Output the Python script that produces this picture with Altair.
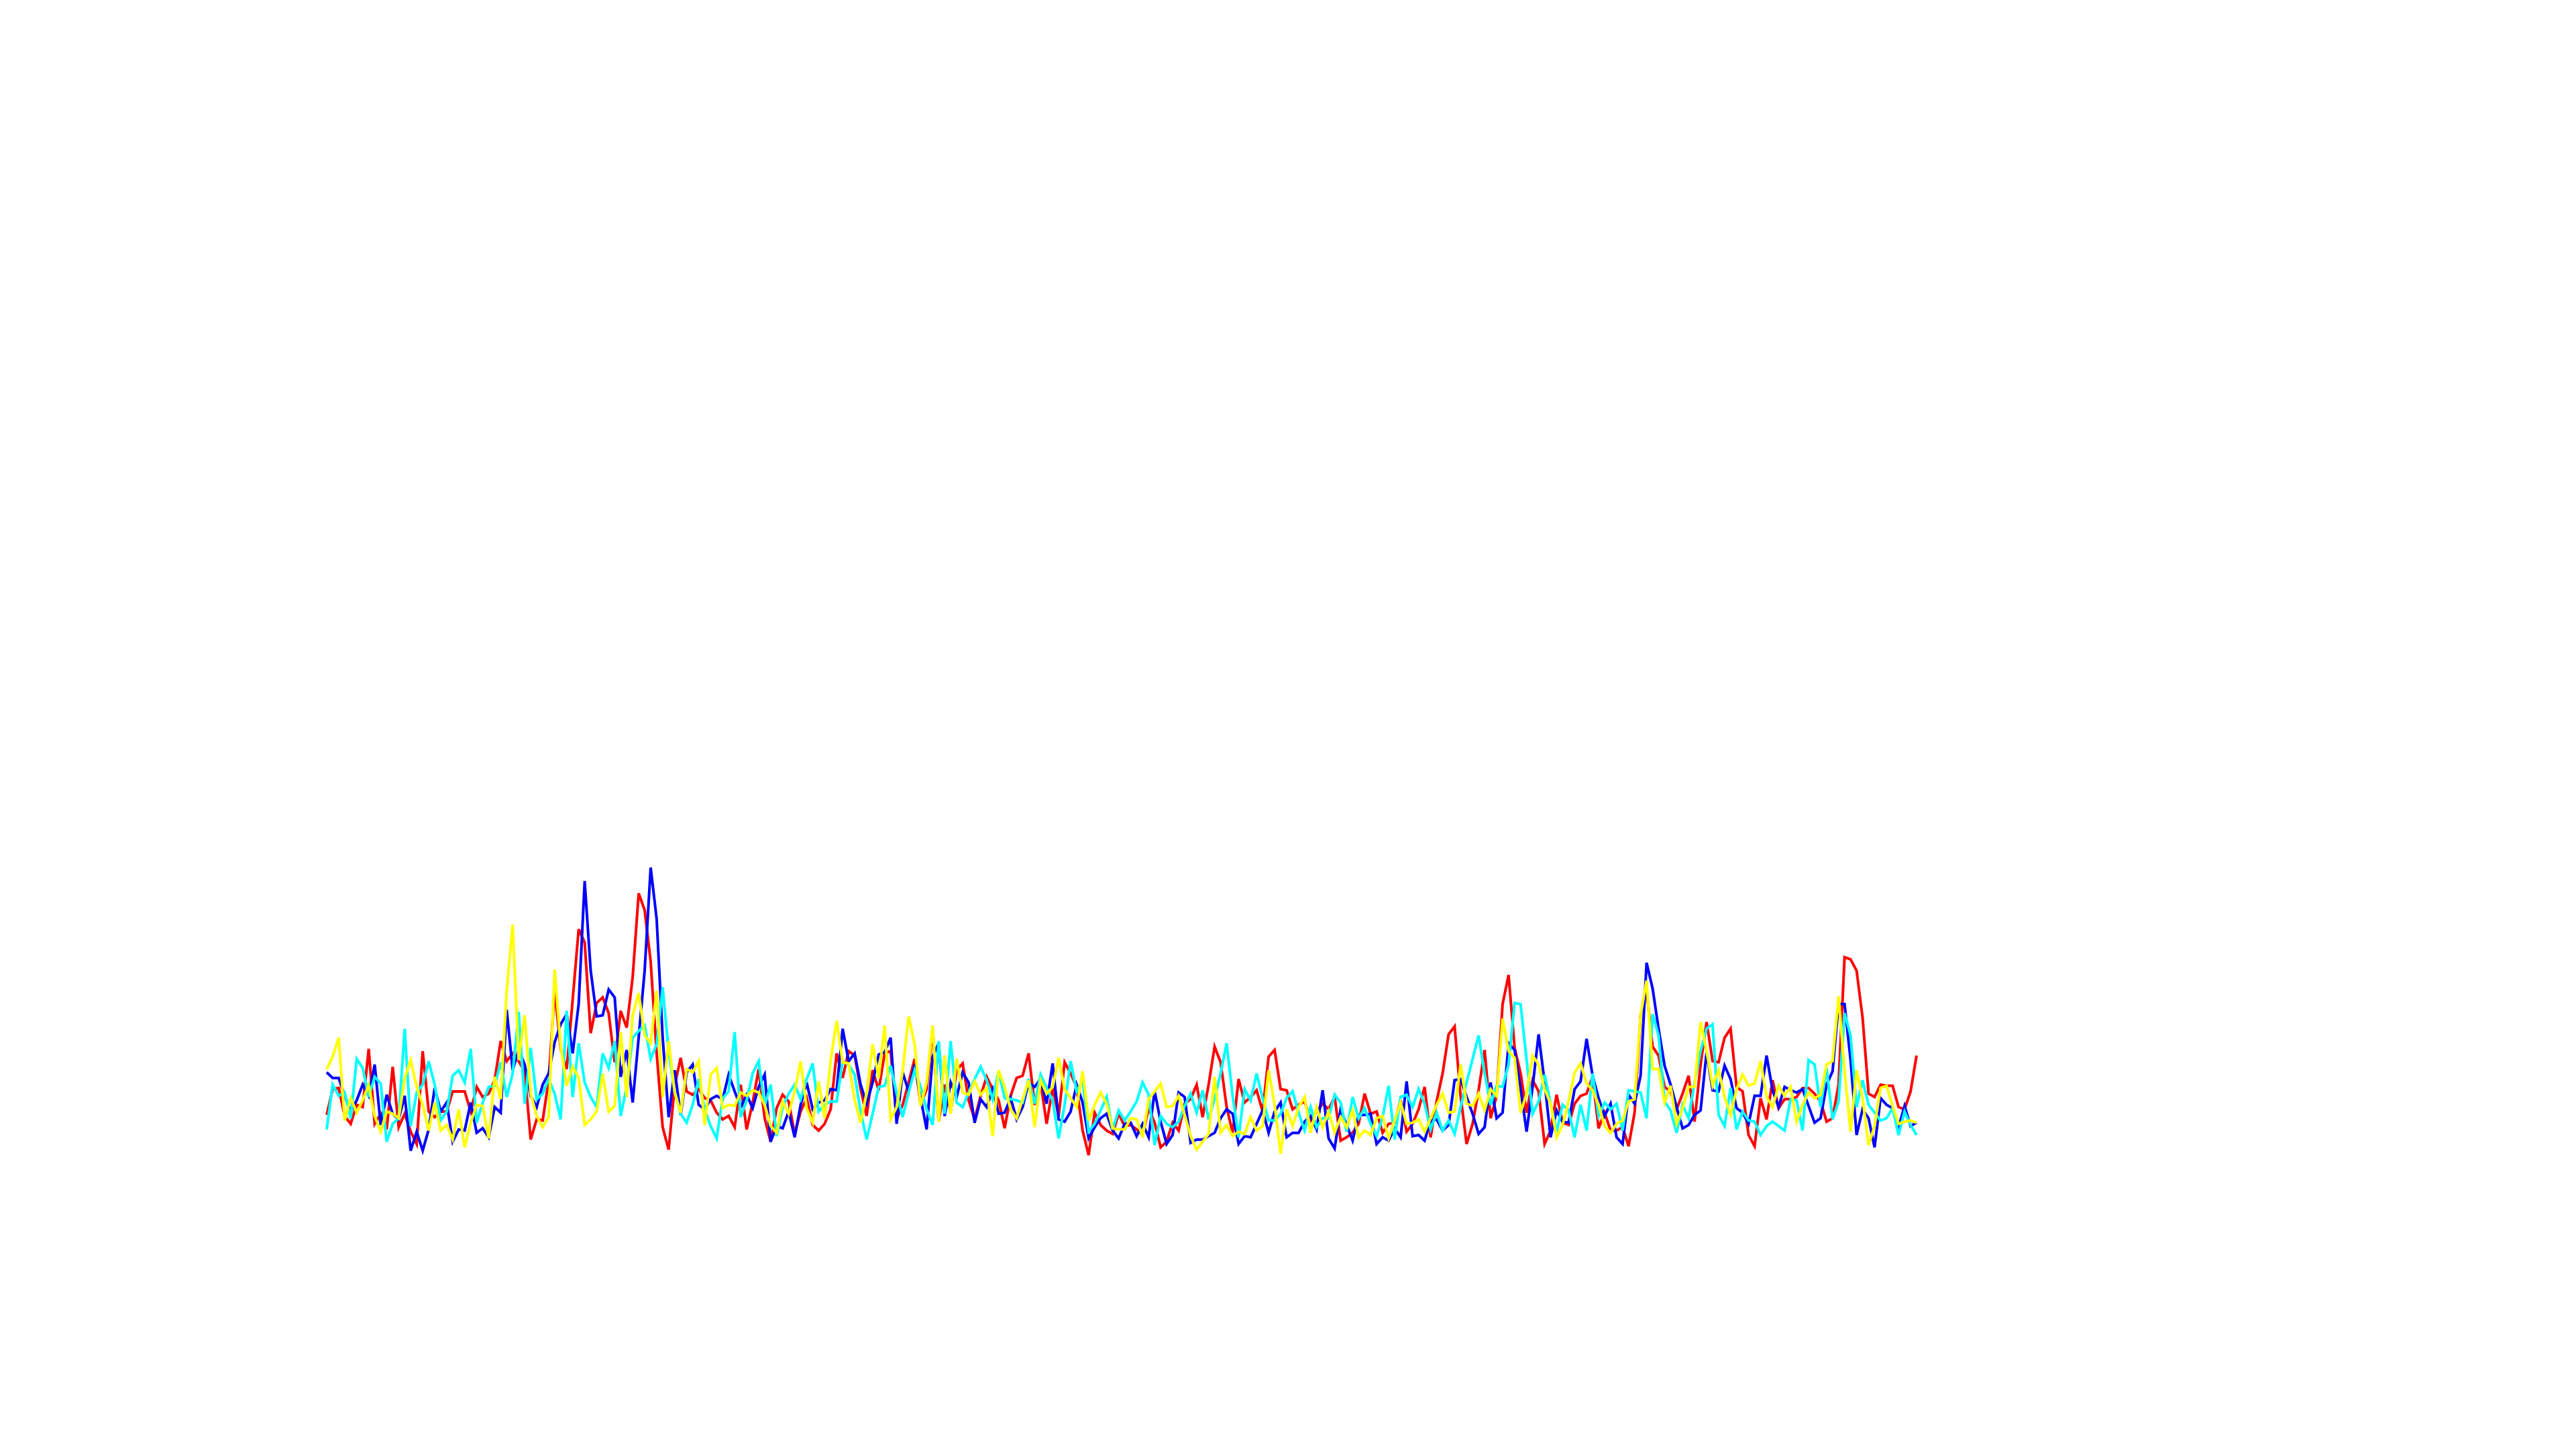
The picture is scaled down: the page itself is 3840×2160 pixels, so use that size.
import altair as alt
import pandas as pd

red = [25.5,37,37.5,25,21.5,30,29,55,21.5,26,19,47,20,26,18,12.5,54,27,24.5,27,27,36,36,36,27,38,33.5,35,41,58.5,49.5,53,49.5,45,14.5,23.5,23,41,81,55,46,77,108.5,
       102.5,62,75.5,78,71,49,72,64.5,87,124.5,117,94,53,20,10,38.5,51,36,34.5,37,33,32,26.5,23.5,25,20,39,19,31,46,24,13.5,28.5,34.5,31.5,17,27,33,21,18.5,21.5,28,53,
       42,54,52,37,25,45.5,36.5,53,54,23.5,30,40,50.5,30,37,64,22.5,39,27,45.5,48.5,32,23.5,34,42.5,37,32,19.5,34,42,43,53,30,40,21.5,37.5,25,49,44,38,18.5,7.5,26.5,21,
       18.5,17,26,20.5,21,19,16.5,28.5,22,11,13.5,22,18.5,30.5,32.5,39,24.5,39,56,49,29,17.5,41.5,31,33.5,36.5,27,51.5,54.5,37,36.5,28,30,31.5,23,27,30.5,28,33.5,14,15.5,17.5,21.5,35,
       26,27,17.5,21.5,22,32,18,21.5,28,38,15.5,31.5,44,61.5,65,34,12.5,21.5,36.5,54.5,24,34,75,88,55.5,44,26.5,41,36,12.5,18.5,34.5,22,21,30.5,34,35,42.5,19.5,26.5,18.5,18.5,20,11.5,
       26.5,70,81,56,52,38,36,28,35,43,22.5,48,67,49.5,49,60,64,38,36,16.5,11.5,33,23.5,41,28.5,32.5,32.5,33.5,37.5,37.5,35,31.5,22.5,24,39,96,95,90,69,35,33.5,39,38.5,38.5,29,28,36,52]

blue = [44.5,42,42,34,27,32,39,34,48,21,34.5,26,23.5,34,9.5,18,9.5,19,37.5,27,31,13.5,19,18.5,31,17.5,19.5,15.5,29,26.5,72.5,45.5,54.5,48,34,29,39,44,58,66,70.5,53,75,
        130,90,69.5,70,81.5,78,42.5,54.5,31,60,90,136,113,60,24.5,45.5,25.5,44.5,48,30,28,32.5,34,32.5,43.5,36,29,34.5,28.5,38,43.5,13.5,20.5,19.5,27,15.5,30,40,28,31,32,37,36.5,
        64,49.5,53,39,30.5,40,52.5,53.5,60,21.5,44.5,36,48,33,19,51.5,57.5,25,40,33.5,44.5,40,22,32.5,29,37,26,26.5,33,23.5,29,40,38,41.5,30.5,48.5,23.5,22.5,27,39,31,15,20,24,
        26,18.5,15,21.5,22,16,21.5,15.5,36,22.5,12.5,16.5,35.5,33.5,13,14.5,14.5,16,17.5,24,28,26,12.5,16,15.5,21.5,27.5,17.5,27,31,15.5,17.5,17.5,22.5,25,19,36.5,15,10.5,28,21,14,25.5,25.5,
        26,12.5,15.5,14,19.5,15.5,40.5,16,16.5,14,23,23.5,18.5,21,41,41.5,33.5,26,17,20,40,24,26.5,57.5,54.5,37,18,38,61.5,40,15.5,27.5,22.5,22,37,40.5,59.5,43,33,25,30.5,15.5,12.5,34.5,
        30.5,43,93.5,82,64,47.5,39,29,19.5,21,25.5,27.5,53.5,36.5,36,47.5,41.5,28.5,26.5,21.5,34,34,52,36.5,29,38,36.5,35.5,37,29.5,22,24,39,45,75,75,50,16.5,28,24,11,33,30,28.5,20,29.5,20.5,22]

cyan = [19,39,34,35.5,24,50.5,46.5,33.5,42.5,39.5,13.5,21.5,24,64,20.5,35.5,39,49.5,39,23,27,43,45.5,40,55,22,31,38,38.5,49,33.5,44,71.5,30.5,55.5,32.5,35,41.5,35,23.5,72,33.5,57.5,
        40,33.5,29,53,46.5,58.5,25,38,60,63,65.5,50.5,57,82.5,54,36,26,22,30,41.5,28,20.5,15,33,36,62.5,24.5,32,44,49.5,29.5,39,16,29,35,39,32.5,41.5,48.5,27,30,31.5,31.5,
        49.5,48,43.5,27,14.5,26,38,38.5,47.5,35,24.5,35.5,45.5,38,28,21,58.5,26,58.5,31,29,35.5,41.5,47,41,32.5,45,33,32.5,32,31,41.5,30.5,43.5,37.5,32,15,30,49.5,36,41,18,21.5,27.5,
        33.5,19,27.5,23,27,31.5,40,34.5,12,25,21.5,20,22.5,29.5,35,26.5,36.5,23.5,33,44,57.5,34,15.5,37,32,44,33,23,23,26,33,36,26.5,18.5,29,20,24,24,34.5,31,18,33.5,24,28.5,
        21.5,16,24.5,38.5,14.5,33.5,34.5,29,37,30.5,19,26.5,18.5,23,17,29,40,50.5,61,44,30,38.5,38,48,75.5,75,50,26,31.5,43.5,30.5,18,30,27.5,15.5,30,18.5,44,25,31,28,30.5,18.5,36.5,
        36,35.5,24,70.5,61,31.5,27.5,17.5,30,24,40,54,64,66,25.5,20.5,37.5,19,27,23,22.5,16.5,20.5,22.5,20.5,18.5,32.5,32,18.5,50,48,29,46.5,23.5,31.5,71,61,29,41,30,26.5,23,24,28.5,16.5,27,21,16.5]

yellow = [46,51.5,60,23,33,26.5,32,39,25,18,27,26,24,42,50,38,30,18.5,31,18.5,21,14.5,28,11,22,30,29.5,15,42.5,32.5,81,110.5,50,70,35,25,20,24.5,90.5,56,38.5,47,42,
          21,23.5,27,44,27,29.5,62.5,33.5,70,80,61,57.5,81,33.5,58.5,35.5,26.5,46,44.5,49.5,21,43.5,46.5,28.5,30,29.5,35.5,34,36.5,35.5,30,20.5,17.5,31.5,26,36,49.5,28.5,22,40.5,24,50,67.5,
          49,48.5,32,22,35.5,57,42,65.5,23.5,29,45,69.5,57,29.5,40,65.5,22.5,52,26,50.5,35.5,34.5,40.5,34.5,37.5,16,45.5,38,28,24,32.5,41,20,41,35,38,51,37,33,29,45,23,30,35.5,
          30.5,19.5,19,19,24,23.5,15.5,32.5,36,39.5,29,29.5,34,25.5,16,10,13.5,17,42.5,17.5,21,16,18,17,24.5,18.5,20.5,45.5,30,8,28,20.5,29,33.5,17.5,29,20,27,17.5,24.5,20,27.5,15.5,18.5,
          16.5,24,25,15,23,31,21.5,22,23.5,18,24,30,35,26.5,27,48,30.5,29.5,35,27.5,37,34,68.5,54,51,26.5,35,52,48,37,30.5,15.5,21,31.5,44.5,48.5,39.5,36.5,30,20.5,17.5,21.5,23,31.5,
          32.5,70,85.5,46,46,31,38.5,21.5,28.5,38,38,67,54,38.5,45.5,33.5,25.5,37,43.5,38.5,39.5,49.5,33.5,29,38.5,34,38,22.5,30,35.5,33,34.5,48,49.5,78.5,45,18,45.5,33,12,20.5,37.5,38.5,29.5,21.5,22.5,23,22]

series_names = ["red", "blue", "cyan", "yellow"]
series_colors = ["#ff0000", "#0000ff", "#00ffff", "#ffff00"]
series_values = {"red": red, "blue": blue, "cyan": cyan, "yellow": yellow}

n = min(len(v) for v in series_values.values())
rows = []
for name in series_names:
    for i, v in enumerate(series_values[name][:n]):
        rows.append({"series": name, "week": i, "value": v})
df = pd.DataFrame(rows)

color_scale = alt.Scale(domain=series_names, range=series_colors)
x_enc = alt.X("week:Q", axis=None, scale=alt.Scale(domain=[0, n - 1], nice=False, zero=False))
y_enc = alt.Y("value:Q", axis=None, scale=alt.Scale(domain=[0, 140], nice=False))

layers = [
    alt.Chart(df)
    .transform_filter(alt.datum.series == s)
    .mark_line(strokeWidth=4, clip=False)
    .encode(x=x_enc, y=y_enc, color=alt.Color("series:N", scale=color_scale, legend=None))
    for s in series_names
]

chart = (
    alt.layer(*layers)
    .properties(
        width=2370,
        height=467,
        padding={"left": 479, "top": 1272, "right": 10, "bottom": 10},
        background="white",
        autosize=alt.AutoSizeParams(type="none"),
    )
    .configure_view(stroke=None)
)

chart.save("out.html", embed_options={"renderer": "svg", "actions": False})
